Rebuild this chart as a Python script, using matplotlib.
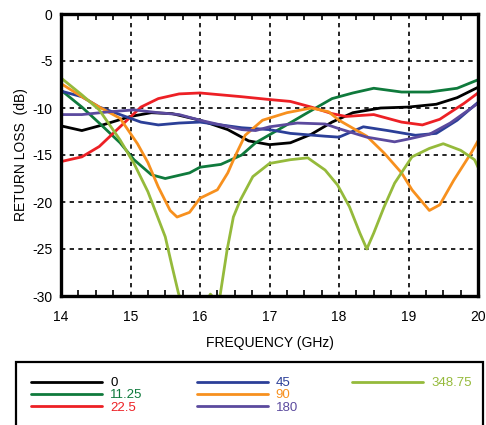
import numpy as np
import matplotlib
matplotlib.use("Agg")
import matplotlib.pyplot as plt
from matplotlib.patches import Rectangle
from matplotlib.lines import Line2D
from matplotlib.ticker import MultipleLocator

plt.rcParams['font.family'] = ['Liberation Sans', 'DejaVu Sans']
plt.rcParams['axes.unicode_minus'] = False

# return loss traces (GHz, dB)
f_0 = [14.0, 14.3, 14.6, 15.0, 15.3, 15.6, 16.0, 16.4, 16.7, 17.0, 17.3, 17.6, 17.9, 18.2, 18.6, 19.0, 19.4, 19.7, 20.0]
rl_0 = [-11.9, -12.4, -11.8, -10.9, -10.5, -10.6, -11.3, -12.3, -13.5, -13.9, -13.7, -12.8, -11.5, -10.5, -10.0, -9.9, -9.6, -8.9, -7.8]

f_11 = [14.0, 14.3, 14.55, 14.85, 15.05, 15.3, 15.5, 15.85, 16.0, 16.3, 16.6, 16.8, 17.2, 17.5, 17.9, 18.2, 18.5, 18.9, 19.3, 19.7, 20.0]
rl_11 = [-8.1, -9.9, -11.6, -13.7, -15.5, -17.1, -17.5, -16.9, -16.3, -16.0, -15.0, -13.7, -12.0, -10.7, -9.0, -8.4, -7.9, -8.3, -8.3, -7.9, -7.0]

f_22 = [14.0, 14.3, 14.55, 14.85, 15.15, 15.4, 15.7, 16.0, 16.3, 16.6, 17.0, 17.3, 17.6, 17.9, 18.1, 18.5, 18.9, 19.2, 19.45, 19.8, 20.0]
rl_22 = [-15.7, -15.2, -14.1, -12.0, -9.9, -9.0, -8.5, -8.4, -8.6, -8.8, -9.1, -9.3, -9.9, -10.6, -10.9, -10.7, -11.5, -11.8, -11.2, -9.5, -8.4]

f_45 = [14.0, 14.3, 14.55, 14.85, 15.15, 15.4, 15.7, 16.0, 16.3, 16.6, 17.0, 17.3, 17.8, 18.0, 18.35, 18.7, 19.1, 19.4, 19.7, 20.0]
rl_45 = [-8.2, -8.8, -9.9, -10.7, -11.5, -11.8, -11.6, -11.5, -11.8, -12.1, -12.3, -12.7, -13.0, -13.1, -12.0, -12.4, -12.9, -12.7, -11.3, -9.4]

f_90 = [14.0, 14.3, 14.55, 14.85, 15.1, 15.25, 15.4, 15.57, 15.67, 15.85, 16.0, 16.25, 16.4, 16.5, 16.65, 16.9, 17.25, 17.6, 17.85, 18.0,
        18.4, 18.65, 18.9, 19.05, 19.3, 19.45, 19.65, 19.9, 20.0]
rl_90 = [-7.4, -8.8, -9.9, -11.1, -13.8, -15.8, -18.4, -20.9, -21.6, -21.1, -19.6, -18.7, -16.9, -15.2, -12.9, -11.3, -10.5, -10.0, -10.4, -11.3,
         -13.0, -14.8, -16.9, -18.7, -20.9, -20.3, -17.7, -14.8, -13.5]

f_180 = [14.0, 14.3, 14.7, 15.05, 15.4, 15.7, 16.0, 16.3, 16.6, 16.8, 17.0, 17.4, 17.8, 18.0, 18.4, 18.8, 19.0, 19.3, 19.6, 20.0]
rl_180 = [-10.7, -10.7, -10.4, -10.2, -10.5, -10.7, -11.3, -11.8, -12.3, -12.4, -12.0, -11.6, -11.7, -12.2, -13.1, -13.6, -13.3, -12.8, -11.6, -9.5]

f_348 = [14.0, 14.3, 14.55, 14.85, 15.05, 15.25, 15.5, 15.6, 15.69, 15.75, 15.9, 16.05, 16.15, 16.22, 16.29, 16.39, 16.48, 16.58, 16.76,
         17.0, 17.3, 17.55, 17.8, 17.98, 18.15, 18.3, 18.4, 18.5, 18.65, 18.8, 19.05, 19.3, 19.5, 19.75, 19.95, 20.0]
rl_348 = [-6.8, -8.6, -10.2, -13.4, -15.9, -18.9, -23.7, -26.9, -29.7, -31.0, -33.0, -31.0, -29.8, -30.4, -29.9, -25.1, -21.6, -19.8, -17.3,
          -15.9, -15.5, -15.3, -16.6, -18.2, -20.5, -23.3, -25.0, -23.3, -20.5, -18.0, -15.2, -14.3, -13.8, -14.5, -15.5, -16.3]

series = [
    ("0", f_0, rl_0, "#000000"),
    ("11.25", f_11, rl_11, "#0f7a3c"),
    ("22.5", f_22, rl_22, "#ed2025"),
    ("45", f_45, rl_45, "#2b3f98"),
    ("90", f_90, rl_90, "#f7901e"),
    ("180", f_180, rl_180, "#5b4a9e"),
    ("348.75", f_348, rl_348, "#95ba3b"),
]

fig = plt.figure(figsize=(4.86, 4.25), dpi=100)
ax = fig.add_axes([61 / 486, 1 - 296 / 425, (478 - 61) / 486, (296 - 14) / 425])

handles, labels = [], []
for name, f, rl, c in series:
    ln, = ax.plot(f, rl, color=c, lw=2.0, label=name, solid_joinstyle='round', solid_capstyle='round')
    handles.append(ln)
    labels.append(name)
# blanks so the last column only holds 348.75
for _ in range(2):
    handles.append(Line2D([], [], color='none'))
    labels.append('')

ax.set_xlim(14, 20)
ax.set_ylim(-30, 0)
ax.xaxis.set_major_locator(MultipleLocator(1))
ax.xaxis.set_minor_locator(MultipleLocator(0.25))
ax.yaxis.set_major_locator(MultipleLocator(5))
ax.grid(True, color='black', linestyle=(0, (2.6, 2.6)), linewidth=1.2)
ax.tick_params(which='both', direction='in', top=True, right=False, labelsize=10, width=1.2)
ax.tick_params(which='major', length=0, pad=10)
ax.tick_params(which='minor', length=4)
ax.tick_params(axis='y', pad=6)
for s in ax.spines.values():
    s.set_linewidth(2.4)

ax.set_xlabel('FREQUENCY (GHz)', fontsize=10, labelpad=9)
ax.set_ylabel('RETURN LOSS  (dB)', fontsize=10, labelpad=3)

leg = fig.legend(handles, labels, loc='upper left', bbox_to_anchor=(31 / 486, 1 - 377 / 425), ncol=3, frameon=False,
                 fontsize=9.5, handlelength=5.4, handletextpad=0.6, columnspacing=4.1,
                 labelspacing=0.0, borderpad=0, borderaxespad=0)
for txt, name in zip(leg.get_texts(), labels):
    for s in series:
        if s[0] == name:
            txt.set_color(s[3])
fig.patches.append(Rectangle((16 / 486, -0.1), (483 - 16) / 486, 0.1 + (425 - 362) / 425,
                             transform=fig.transFigure, fill=False, lw=1.6, ec='black'))

fig.savefig('out.png', dpi=100)
